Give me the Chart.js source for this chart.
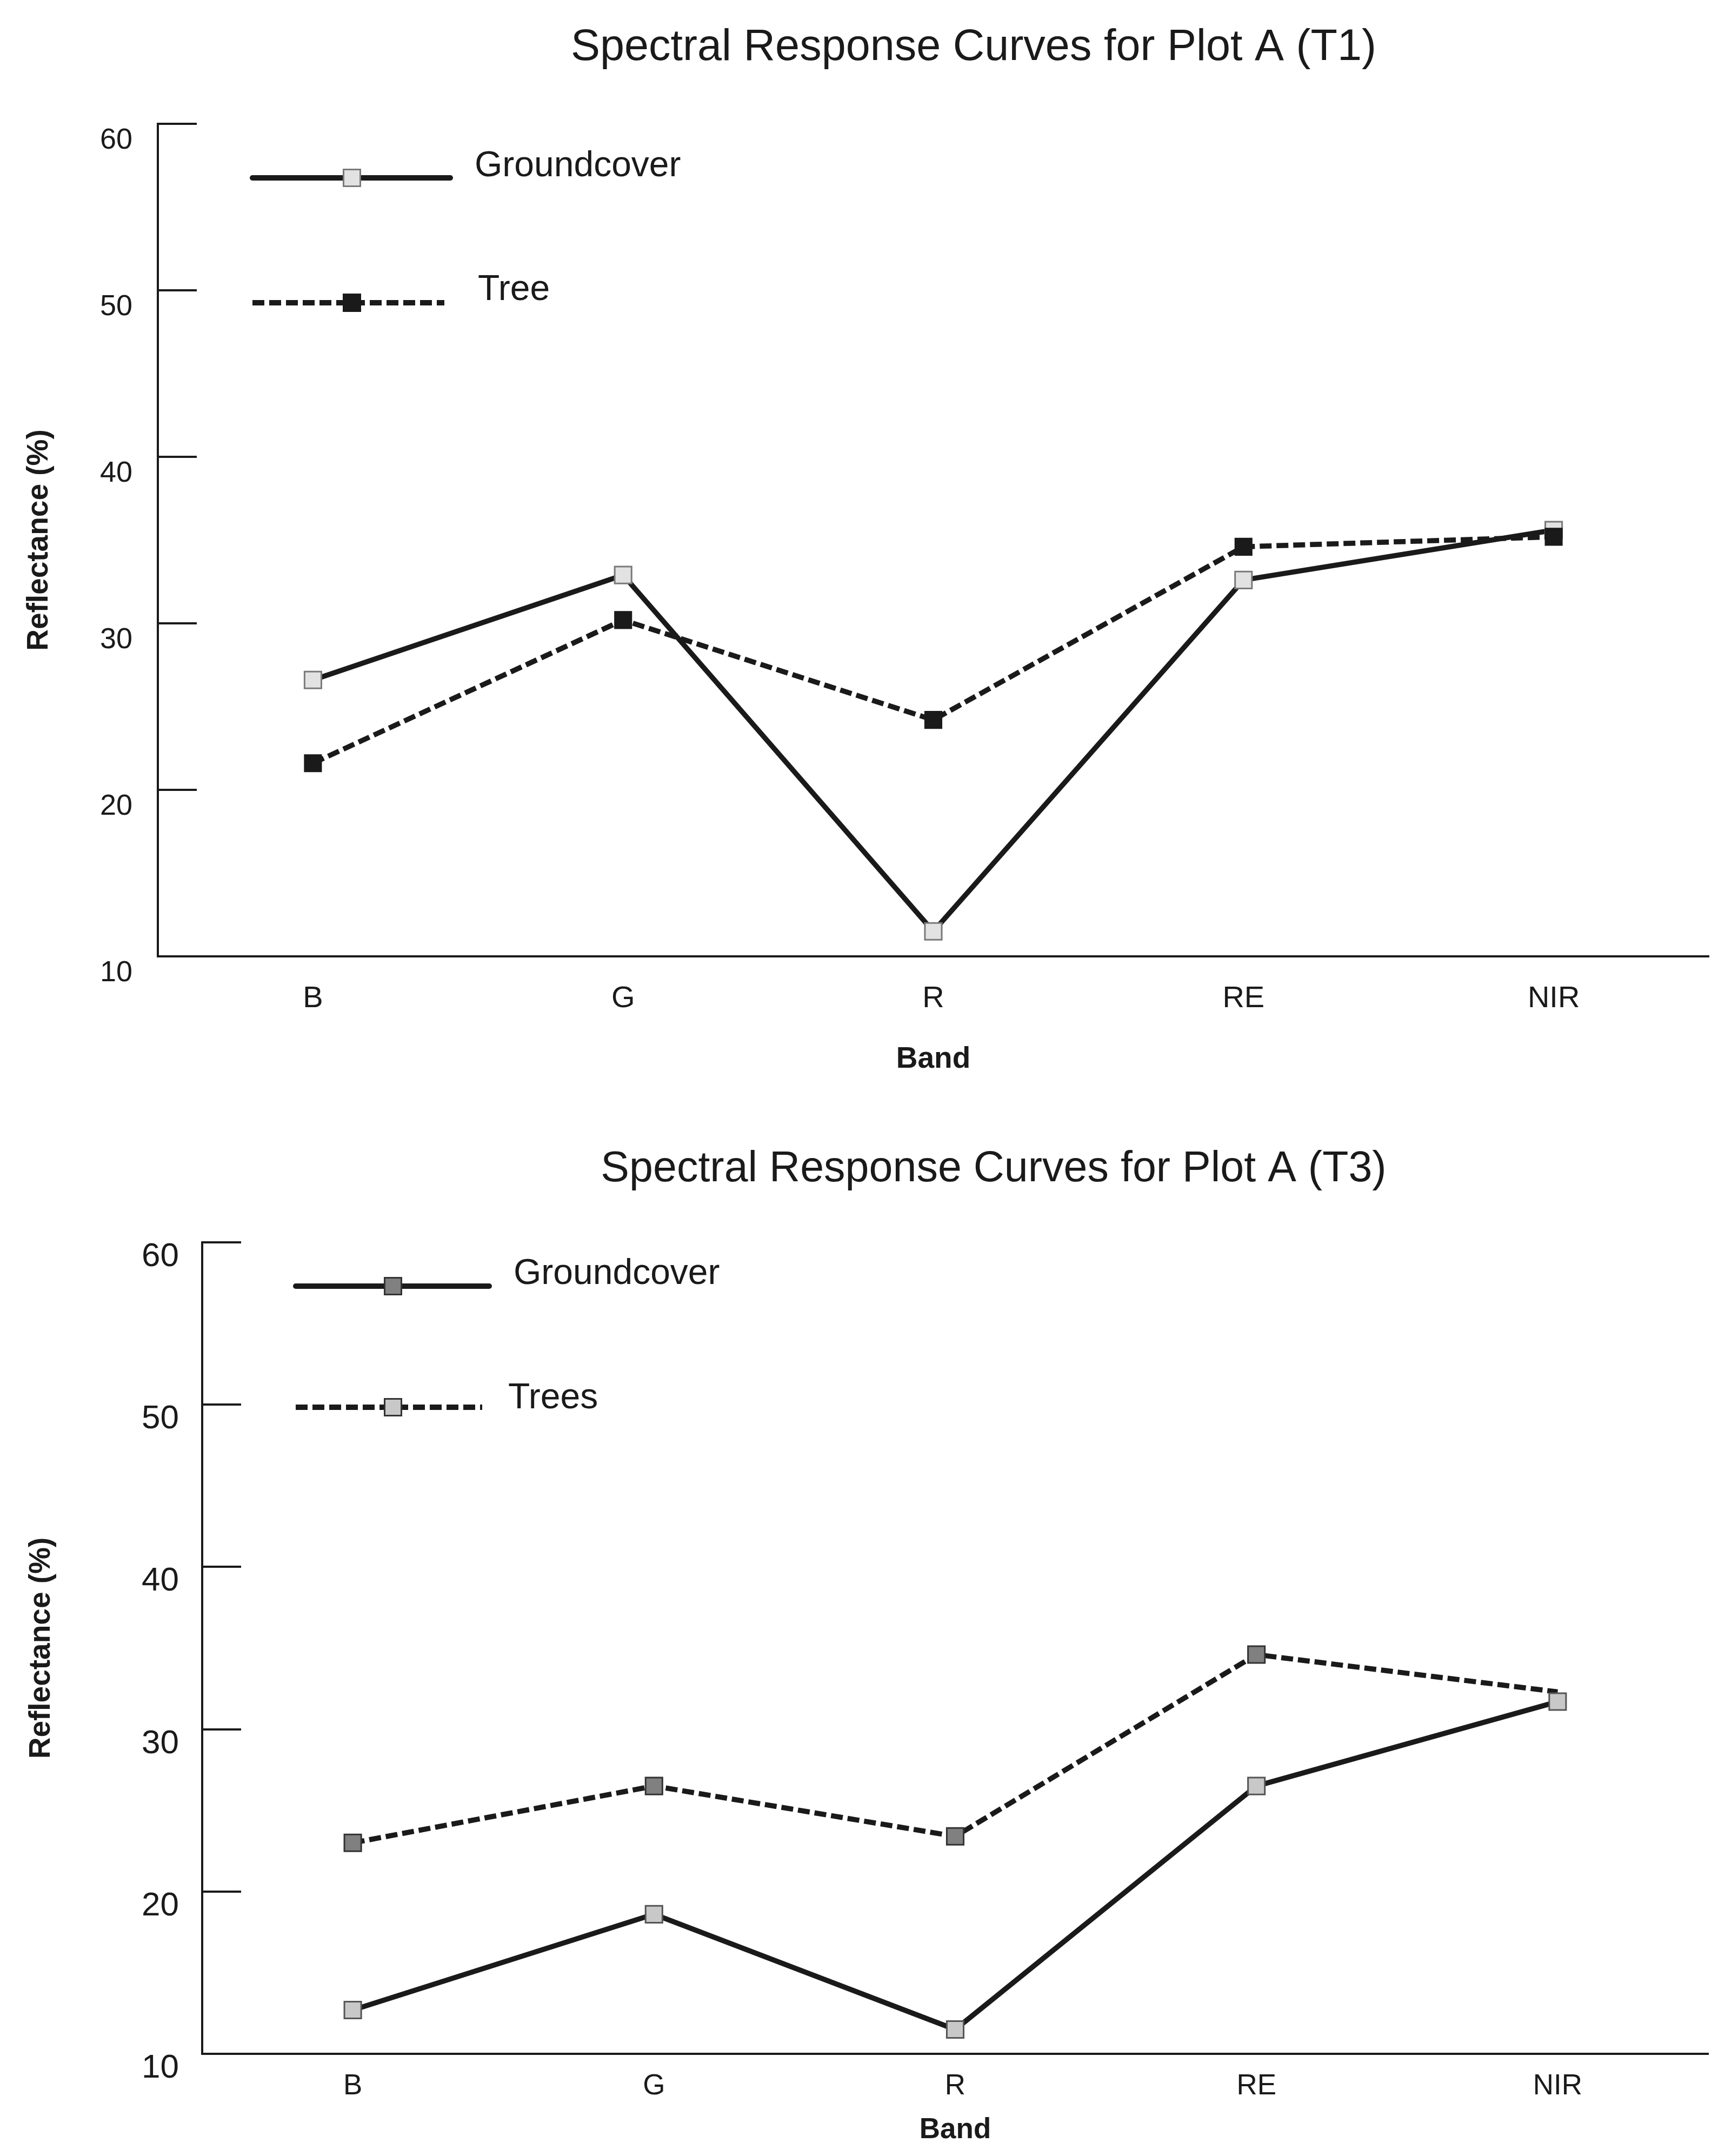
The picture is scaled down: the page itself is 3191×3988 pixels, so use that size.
<!DOCTYPE html>
<html>
<head>
<meta charset="utf-8">
<title>Spectral Response Curves for Plot A</title>
<script src="https://cdn.jsdelivr.net/npm/chart.js@4.4.1/dist/chart.umd.min.js"></script>
<style>
    html, body { margin: 0; padding: 0; background: #fff; }
    #page { position: relative; width: 3191px; height: 3988px; }
    canvas { position: absolute; left: 0; }
</style>
</head>
<body>
<div id="page">
    <canvas id="chartT1" width="3191" height="2040" style="top:0"></canvas>
    <canvas id="chartT3" width="3191" height="1948" style="top:2040px"></canvas>
</div>
<script>
// Data
const bands = ['B', 'G', 'R', 'RE', 'NIR'];
const reflectanceTicks = [10, 20, 30, 40, 50, 60];

const t1Groundcover = [26.6, 32.9, 11.5, 32.6, 35.6];
const t1Tree = [21.6, 30.2, 24.2, 34.6, 35.2];

const t3Groundcover = [12.7, 18.6, 11.5, 26.5, 31.7];
const t3Trees = [23.0, 26.5, 23.4, 34.6, 32.3];

const INK = '#1a1a1a';
const SANS = '"Liberation Sans", Arial, sans-serif';
const NARROW = '"Liberation Sans Narrow", "Liberation Sans", Arial, sans-serif';

// inward tick marks, chart title and the in-plot legend
function decorations(cfg) {
    return {
        id: 'decorations',
        afterDraw(chart) {
            const { ctx, chartArea: a, scales: { y } } = chart;
            ctx.save();

            ctx.strokeStyle = INK;
            ctx.lineWidth = 4;
            reflectanceTicks.slice(1).forEach(v => {
                const py = Math.round(y.getPixelForValue(v));
                ctx.beginPath();
                ctx.moveTo(a.left, py);
                ctx.lineTo(a.left + 72, py);
                ctx.stroke();
            });

            ctx.fillStyle = INK;
            ctx.font = cfg.titleSize + 'px ' + SANS;
            ctx.textAlign = 'center';
            ctx.textBaseline = 'middle';
            ctx.fillText(cfg.title, cfg.titleX, cfg.titleY);

            cfg.legend.forEach(item => {
                const ly = a.top + item.dy;
                ctx.strokeStyle = INK;
                ctx.lineWidth = 10;
                ctx.lineCap = item.dash.length ? 'butt' : 'round';
                ctx.setLineDash(item.dash);
                ctx.beginPath();
                ctx.moveTo(a.left + item.x1, ly);
                ctx.lineTo(a.left + item.x2, ly);
                ctx.stroke();
                ctx.setLineDash([]);

                const s = 31;
                const mx = a.left + item.mx;
                ctx.fillStyle = item.fill;
                ctx.fillRect(mx - s / 2, ly - s / 2, s, s);
                ctx.strokeStyle = item.stroke;
                ctx.lineWidth = 3;
                ctx.strokeRect(mx - s / 2, ly - s / 2, s, s);

                ctx.fillStyle = INK;
                ctx.font = '66px ' + SANS;
                ctx.textAlign = 'left';
                ctx.textBaseline = 'middle';
                ctx.fillText(item.text, a.left + item.tx, a.top + item.ty);
            });
            ctx.restore();
        }
    };
}

function makeChart(id, datasets, cfg) {
    return new Chart(document.getElementById(id), {
        type: 'line',
        data: { labels: bands, datasets: datasets },
        options: {
            responsive: false,
            animation: false,
            devicePixelRatio: 1,
            layout: { padding: { top: cfg.areaTop, right: cfg.padRight, left: 0, bottom: 0 } },
            plugins: {
                legend: { display: false },
                tooltip: { enabled: false },
                title: { display: false }
            },
            scales: {
                x: {
                    type: 'category',
                    offset: true,
                    grid: { display: false, drawTicks: false },
                    border: { display: true, color: INK, width: 4 },
                    ticks: {
                        color: INK,
                        font: { family: NARROW, size: cfg.bandSize },
                        padding: cfg.xPad,
                        maxRotation: 0
                    },
                    title: {
                        display: true,
                        text: 'Band',
                        color: INK,
                        font: { family: SANS, size: cfg.bandTitleSize, weight: 'bold' },
                        padding: { top: 0, bottom: cfg.bandTitlePad }
                    },
                    afterFit: s => { s.height = cfg.xHeight; }
                },
                y: {
                    min: 10,
                    max: 60,
                    afterBuildTicks: s => { s.ticks = reflectanceTicks.map(v => ({ value: v })); },
                    grid: { display: false, drawTicks: false },
                    border: { display: true, color: INK, width: 4 },
                    ticks: {
                        color: INK,
                        font: { family: SANS, size: cfg.tickSize },
                        padding: cfg.yPad,
                        labelOffset: cfg.labelOffset
                    },
                    title: {
                        display: true,
                        text: 'Reflectance (%)',
                        color: INK,
                        font: { family: SANS, size: 55, weight: 'bold' },
                        padding: { top: cfg.yTitlePad, bottom: 0 }
                    },
                    afterFit: s => { s.width = cfg.yWidth; }
                }
            }
        },
        plugins: [decorations(cfg)]
    });
}

document.addEventListener('DOMContentLoaded', function () {
    // Plot A (T1)
    makeChart('chartT1', [
        {
            label: 'Tree',
            data: t1Tree,
            order: 0,
            borderColor: INK,
            borderWidth: 9.5,
            borderDash: [22, 9],
            tension: 0,
            pointStyle: 'rect',
            pointRadius: 22,
            pointBorderWidth: 2,
            pointBackgroundColor: INK,
            pointBorderColor: INK
        },
        {
            label: 'Groundcover',
            data: t1Groundcover,
            order: 1,
            borderColor: INK,
            borderWidth: 9.5,
            tension: 0,
            pointStyle: 'rect',
            pointRadius: 22,
            pointBorderWidth: 3,
            pointBackgroundColor: '#e2e2e2',
            pointBorderColor: '#7a7a7a'
        }
    ], {
        title: 'Spectral Response Curves for Plot A (T1)',
        titleSize: 81, titleX: 1801, titleY: 89,
        areaTop: 229, padRight: 30, yWidth: 292, xHeight: 271,
        tickSize: 54, yPad: 47, labelOffset: 31, yTitlePad: 40,
        bandSize: 56, xPad: 45, bandTitleSize: 55, bandTitlePad: 47,
        legend: [
            { text: 'Groundcover', dash: [], fill: '#e2e2e2', stroke: '#7a7a7a',
              x1: 175, x2: 541, mx: 359, dy: 100, tx: 586, ty: 79 },
            { text: 'Tree', dash: [22, 9], fill: INK, stroke: INK,
              x1: 175, x2: 530, mx: 359, dy: 331, tx: 592, ty: 308 }
        ]
    });

    // Plot A (T3)
    makeChart('chartT3', [
        {
            label: 'Groundcover',
            data: t3Groundcover,
            order: 0,
            borderColor: INK,
            borderWidth: 9.5,
            tension: 0,
            pointStyle: 'rect',
            pointRadius: 22,
            pointBorderWidth: 3,
            pointBackgroundColor: '#c8c8c8',
            pointBorderColor: '#555555'
        },
        {
            label: 'Trees',
            data: t3Trees,
            order: 1,
            borderColor: INK,
            borderWidth: 9.5,
            borderDash: [22, 9],
            tension: 0,
            pointStyle: 'rect',
            pointRadius: [22, 22, 22, 22, 0],
            pointBorderWidth: 3,
            pointBackgroundColor: '#808080',
            pointBorderColor: '#333333'
        }
    ], {
        title: 'Spectral Response Curves for Plot A (T3)',
        titleSize: 79, titleX: 1838, titleY: 123,
        areaTop: 258, padRight: 31, yWidth: 374, xHeight: 189,
        tickSize: 62, yPad: 43, labelOffset: 27, yTitlePad: 44,
        bandSize: 53, xPad: 29, bandTitleSize: 53, bandTitlePad: 16,
        legend: [
            { text: 'Groundcover', dash: [], fill: '#808080', stroke: '#333333',
              x1: 173, x2: 531, mx: 353, dy: 81, tx: 576, ty: 59 },
            { text: 'Trees', dash: [22, 9], fill: '#c8c8c8', stroke: '#333333',
              x1: 173, x2: 518, mx: 353, dy: 305, tx: 566, ty: 289 }
        ]
    });
});
</script>
</body>
</html>
